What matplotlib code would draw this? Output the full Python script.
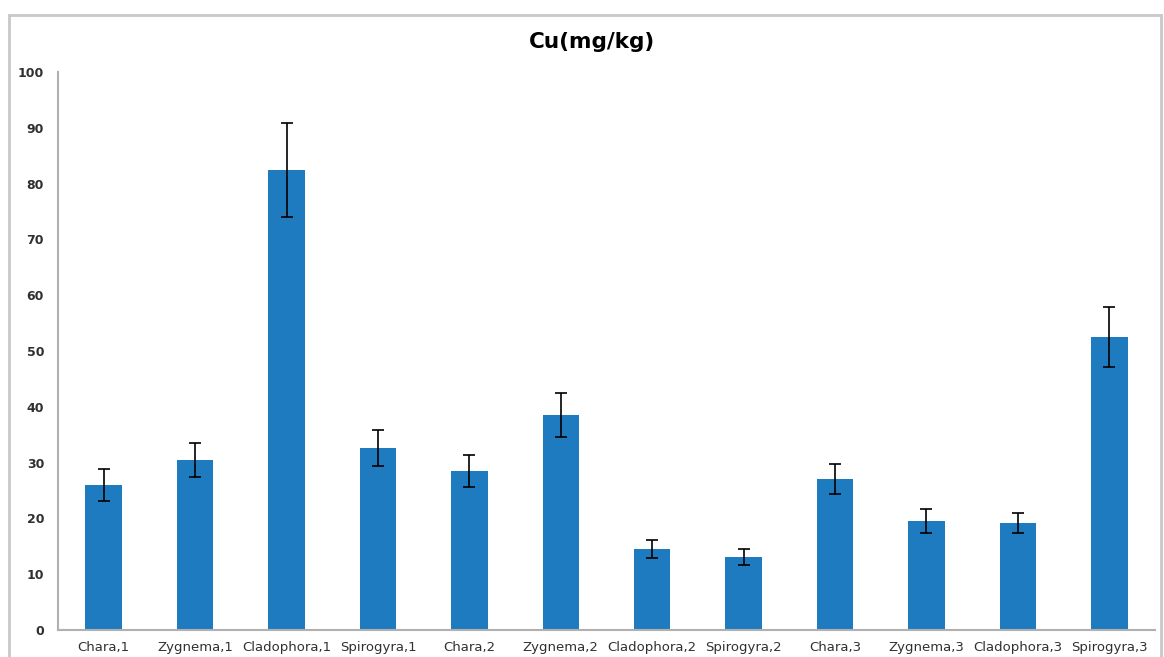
import matplotlib.pyplot as plt
import matplotlib.patches as patches
import numpy as np

labels = ['Chara,1', 'Zygnema,1', 'Cladophora,1', 'Spirogyra,1',
          'Chara,2', 'Zygnema,2', 'Cladophora,2', 'Spirogyra,2',
          'Chara,3', 'Zygnema,3', 'Cladophora,3', 'Spirogyra,3']
cu = [26.0, 30.5, 82.4, 32.6, 28.5, 38.5, 14.5, 13.1, 27.1, 19.5, 19.2, 52.5]
err = [2.8, 3.1, 8.4, 3.2, 2.9, 3.9, 1.6, 1.4, 2.7, 2.1, 1.8, 5.3]

fig = plt.figure(figsize=(11.64, 6.57), dpi=100)
# outer frame like the pasted chart area
fig.patches.append(patches.Rectangle((9 / 1164, -0.01), 1152 / 1164, 1 - 15 / 657 + 0.01,
                                     transform=fig.transFigure, fill=False,
                                     edgecolor='#c8c8c8', linewidth=2))

ax = fig.add_axes([58 / 1164, 27 / 657, 1097 / 1164, 558 / 657])
x = np.arange(len(labels))
ax.bar(x, cu, width=0.4, color='#1f7bbf', yerr=err, capsize=4,
       error_kw=dict(ecolor='black', elinewidth=1.2, capthick=1.2))

ax.set_xlim(-0.5, len(labels) - 0.5)
ax.set_ylim(0, 100)
ax.set_yticks(range(0, 101, 10))
ax.set_xticks(x)
ax.set_xticklabels(labels, fontsize=9.5, color='#303030')
for t in ax.get_yticklabels():
    t.set_fontweight('bold')
    t.set_fontsize(9)
    t.set_color('#303030')
ax.tick_params(length=0, pad=8)
ax.tick_params(axis='y', pad=10)

for s in ['top', 'right']:
    ax.spines[s].set_visible(False)
for s in ['left', 'bottom']:
    ax.spines[s].set_color('#b0b0b0')
    ax.spines[s].set_linewidth(1.5)

fig.text(592 / 1164, 1 - 42 / 657, 'Cu(mg/kg)', ha='center', va='center',
         fontsize=15.5, fontweight='bold', color='black')

fig.savefig('out.png', dpi=100)
